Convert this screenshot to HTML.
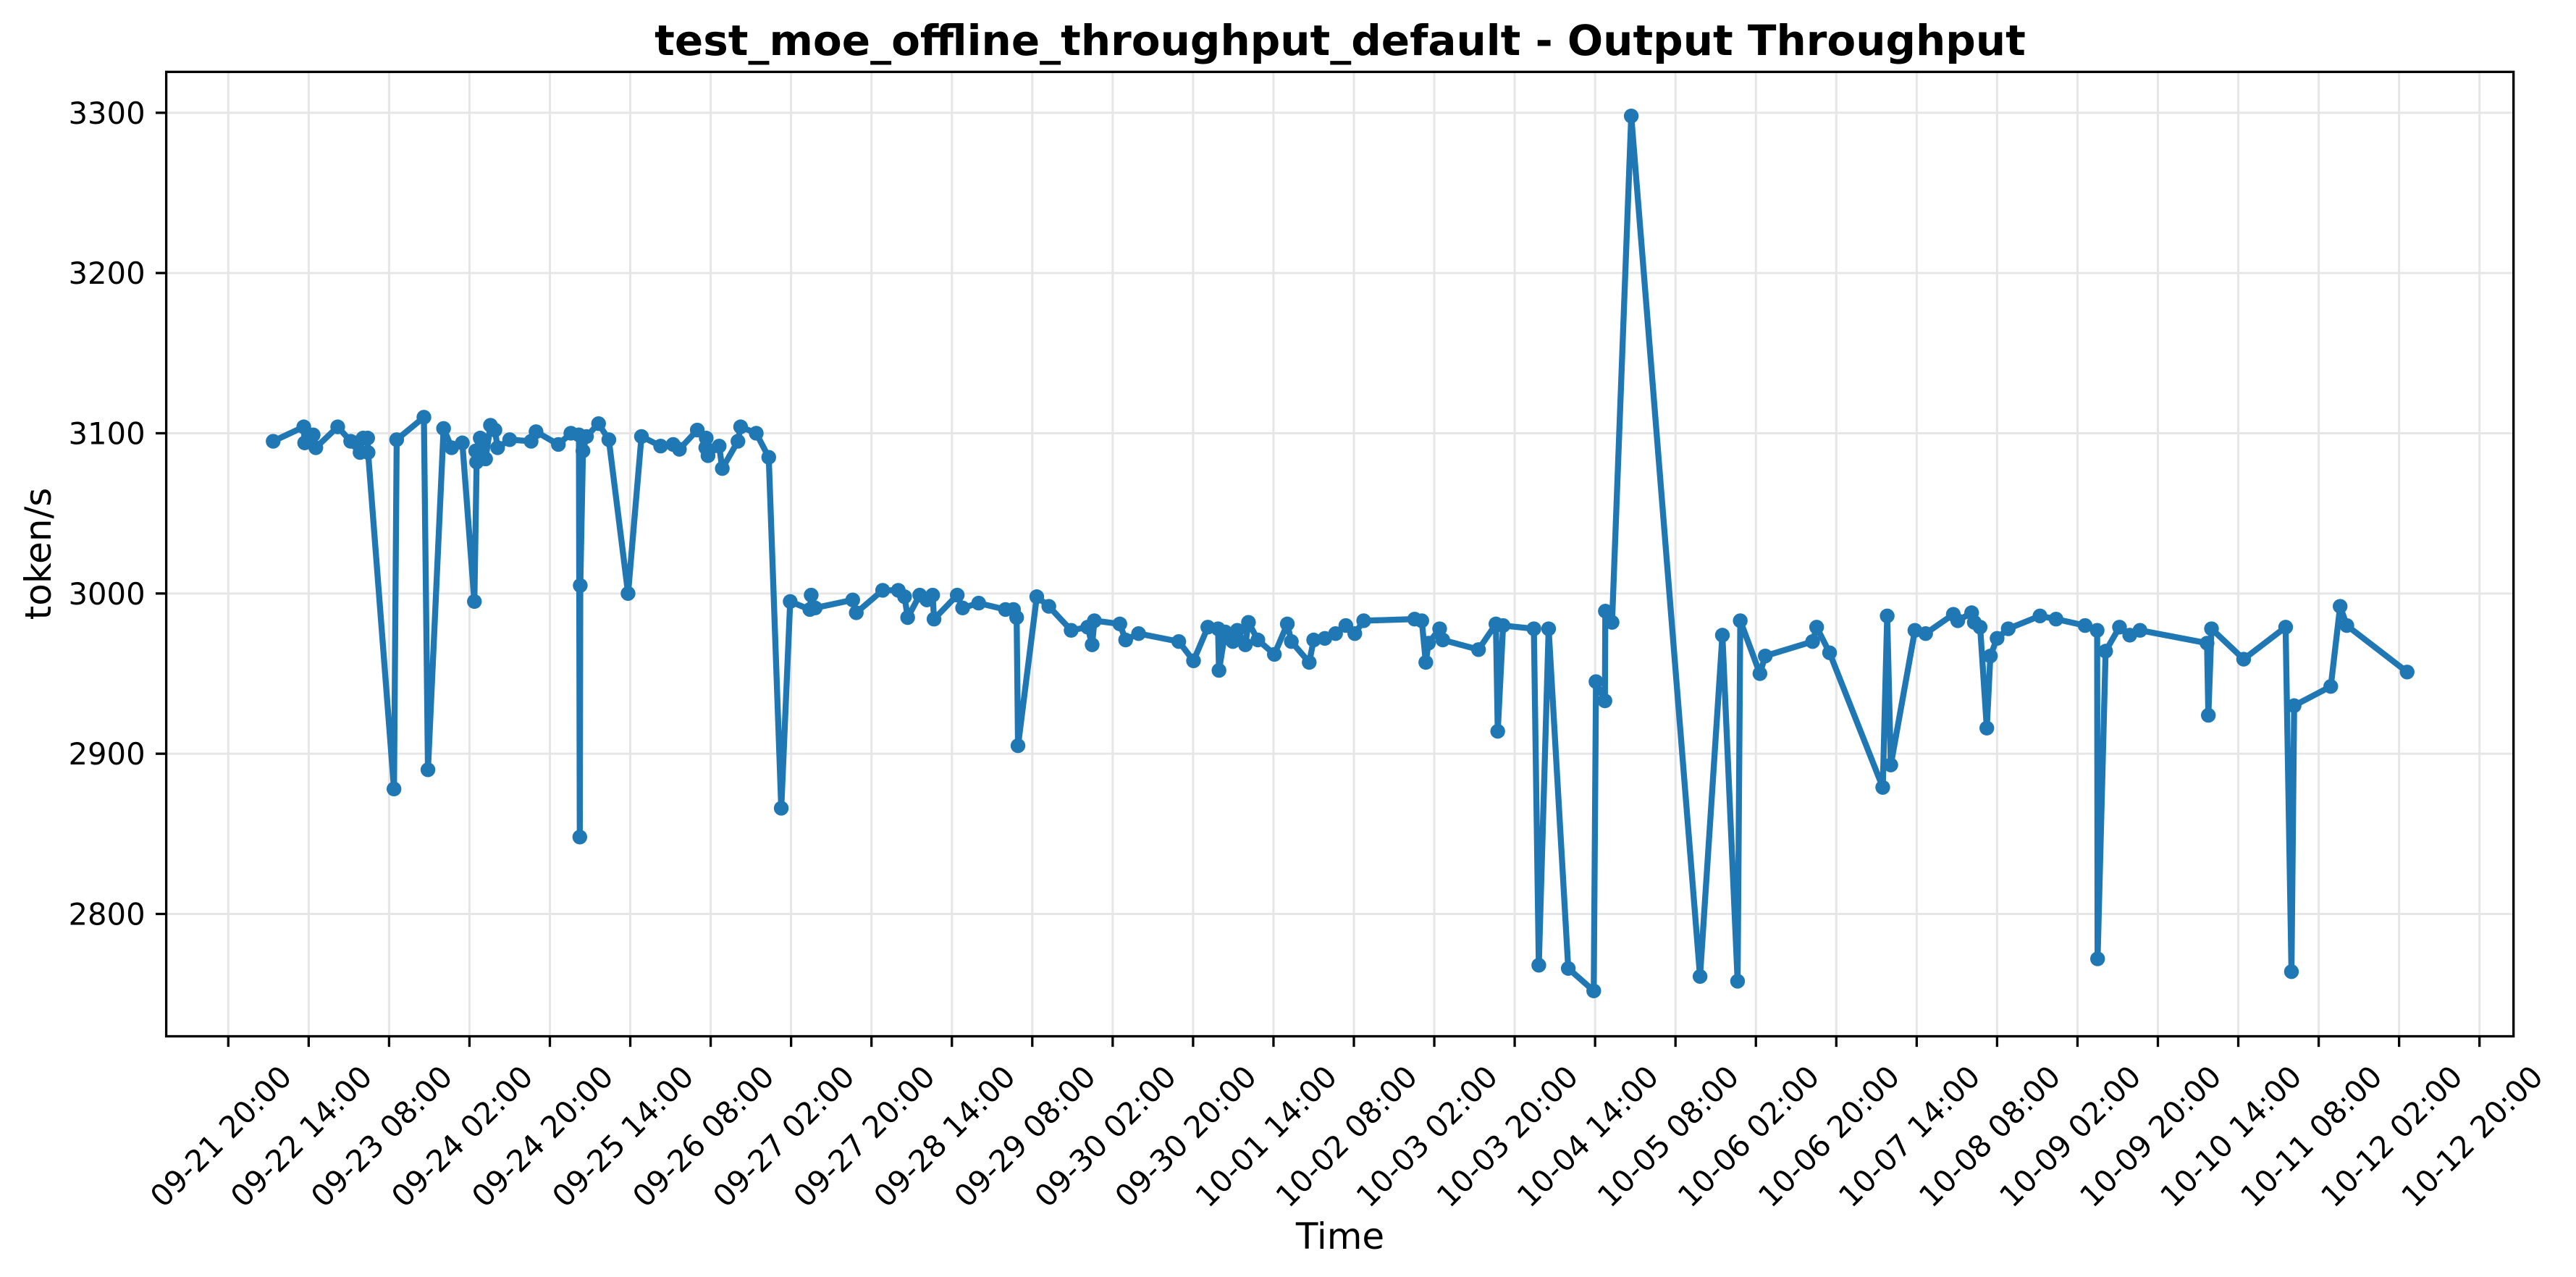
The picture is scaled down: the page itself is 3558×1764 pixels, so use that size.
<!DOCTYPE html>
<html>
<head>
<meta charset="utf-8">
<style>
  html, body { margin: 0; padding: 0; background: #ffffff; }
  svg { display: block; }
  text { font-family: "DejaVu Sans", "Liberation Sans", sans-serif; fill: #000; }
</style>
</head>
<body>
<svg id="chart" width="3558" height="1764" viewBox="0 0 3558 1764" xmlns="http://www.w3.org/2000/svg">
  <rect x="0" y="0" width="3558" height="1764" fill="#ffffff"/>
  <g id="grid"></g>
  <g id="series"></g>
  <g id="axes"></g>
  <text x="1851" y="76" font-size="58" font-weight="bold" text-anchor="middle">test_moe_offline_throughput_default - Output Throughput</text>
  <text x="1851" y="1725" font-size="50" text-anchor="middle">Time</text>
  <text x="0" y="0" font-size="50" text-anchor="middle" transform="translate(70,765) rotate(-90)">token/s</text>
</svg>
<script>
// hours since 09-21 20:00
const hours = [10.05,16.9,17.1,19,19.6,24.5,27.4,28.7,29.5,30.2,31.2,31.3,37.1,37.7,43.8,44.7,48.2,50,52.4,55.1,55.6,55.4,56.4,57.6,58.7,59.7,60.3,63,67.8,68.9,73.9,76.7,78.5,78.7,78.8,79.4,80.2,82.9,85.2,89.5,92.5,96.8,99.6,101,105,107,106.9,107.4,109.9,110.6,114.1,114.7,118.2,121,123.8,125.8,130.2,130.5,131.4,139.8,140.6,
146.5,150,151.4,152.1,154.8,156.4,157.7,158,163.2,164.4,168,174,175.8,176.5,176.8,181,183.7,188.7,192.4,193.4,193.9,199.6,200.9,203.8,212.8,216.1,219.3,221.6,221.8,223.2,224.9,225.9,227.7,228.4,230.5,234.2,237.1,238,242,243,245.5,247.9,250.2,252.2,254.2,265.6,267.2,268.1,268.7,271.2,271.9,279.9,283.8,284.2,285.4,292.3,293.4,295.6,300,305.7,306.2,308.2,308.3,309.8,314.1,329.5,
334.5,337.9,338.5,342.9,344.1,354.7,355.6,358.5,370.4,371.4,372.2,377.6,380,386.2,387.2,390.3,390.9,392.2,393.7,394.5,396,398.5,405.6,409.2,415.7,418.4,418.5,420.3,423.4,425.7,428,443,443.3,444,451.2,460.6,461.9,462.5,470.7,472.8,474.3,487.8];
const values = [3095,3104,3094,3099,3091,3104,3095,3094,3088,3097,3097,3088,2878,3096,3110,2890,3103,3091,3094,2995,3082,3089,3097,3084,3105,3102,3091,3096,3095,3101,3093,3100,3099,2848,3005,3089,3098,3106,3096,3000,3098,3092,3093,3090,3102,3097,3091,3086,3092,3078,3095,3104,3100,3085,2866,2995,2990,2999,2991,2996,2988,
3002,3002,2998,2985,2999,2996,2999,2984,2999,2991,2994,2990,2990,2985,2905,2998,2992,2977,2979,2968,2983,2981,2971,2975,2970,2958,2979,2978,2952,2976,2970,2977,2968,2982,2971,2962,2981,2970,2957,2971,2972,2975,2980,2975,2983,2984,2983,2957,2969,2978,2971,2965,2981,2914,2980,2978,2768,2978,2766,2752,2945,2933,2989,2982,3298,2761,
2974,2758,2983,2950,2961,2970,2979,2963,2879,2986,2893,2977,2975,2987,2983,2988,2982,2979,2916,2961,2972,2978,2986,2984,2980,2977,2772,2964,2979,2974,2977,2969,2924,2978,2959,2979,2764,2930,2942,2992,2980,2951];
const yTicks = [2800,2900,3000,3100,3200,3300];
const xTickHours = [0,18,36,54,72,90,108,126,144,162,180,198,216,234,252,270,288,306,324,342,360,378,396,414,432,450,468,486,504];
const xTickLabels = ["09-21 20:00","09-22 14:00","09-23 08:00","09-24 02:00","09-24 20:00","09-25 14:00","09-26 08:00","09-27 02:00","09-27 20:00","09-28 14:00","09-29 08:00","09-30 02:00","09-30 20:00","10-01 14:00","10-02 08:00","10-03 02:00","10-03 20:00","10-04 14:00","10-05 08:00","10-06 02:00","10-06 20:00","10-07 14:00","10-08 08:00","10-09 02:00","10-09 20:00","10-10 14:00","10-11 08:00","10-12 02:00","10-12 20:00"];

const AX = {left:229.6, right:3471.7, top:99.3, bottom:1431.5};
const X0 = 315.3, PX_PER_H = 111.05/18;
const Y3300 = 155.8, PX_PER_UNIT = 2.2134;
function xScale(h){ return X0 + h*PX_PER_H; }
function yScale(v){ return Y3300 + (3300 - v)*PX_PER_UNIT; }
const NS = "http://www.w3.org/2000/svg";
function mk(tag, attrs){ const e=document.createElementNS(NS,tag); for(const k in attrs) e.setAttribute(k,attrs[k]); return e; }

const grid = document.getElementById('grid');
const axes = document.getElementById('axes');
const series = document.getElementById('series');

yTicks.forEach(function(v){
  const y = yScale(v);
  const g = mk('line',{x1:AX.left,x2:AX.right,y1:y,y2:y,stroke:'#e6e6e6','stroke-width':3});
  
  
  grid.appendChild(g);
  const t = mk('line',{x1:AX.left-14.6,x2:AX.left,y1:y,y2:y,stroke:'#000','stroke-width':3.3});
  
  
  axes.appendChild(t);
  const lb = mk('text',{x:AX.left-29,y:y+15,'font-size':41.7,'text-anchor':'end'});
  lb.textContent = String(v);
  
  
  axes.appendChild(lb);
});

xTickHours.forEach(function(h,i){
  const x = xScale(h);
  const g = mk('line',{x1:x,x2:x,y1:AX.top,y2:AX.bottom,stroke:'#e6e6e6','stroke-width':3});
  
  
  grid.appendChild(g);
  const t = mk('line',{x1:x,x2:x,y1:AX.bottom,y2:AX.bottom+14.6,stroke:'#000','stroke-width':3.3});
  
  
  axes.appendChild(t);
  const px = x+90, py = 1490;
  const lb = mk('text',{x:0,y:0,'font-size':41.7,'text-anchor':'end',transform:'translate('+px+','+py+') rotate(-45)'});
  lb.textContent = xTickLabels[i];
  
  
  axes.appendChild(lb);
});

const frame = mk('rect',{x:AX.left,y:AX.top,width:AX.right-AX.left,height:AX.bottom-AX.top,fill:'none',stroke:'#000','stroke-width':3.3});


axes.appendChild(frame);

let d = '';
hours.forEach(function(h,i){ d += (i?'L':'M') + xScale(h).toFixed(1) + ' ' + yScale(values[i]).toFixed(1); });
const path = mk('path',{d:d,fill:'none',stroke:'#1f77b4','stroke-width':8.3,'stroke-linejoin':'round','stroke-linecap':'round'});


series.appendChild(path);
hours.forEach(function(h,i){
  const c = mk('circle',{cx:xScale(h),cy:yScale(values[i]),r:10.2,fill:'#1f77b4'});
  
  
  series.appendChild(c);
});
</script>
</body>
</html>
